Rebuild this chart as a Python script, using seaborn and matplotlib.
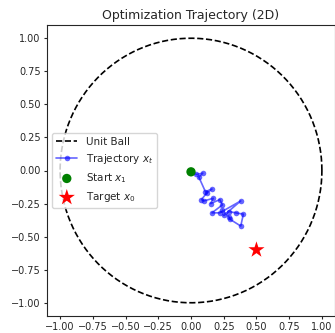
import numpy as np
import pandas as pd
import matplotlib
matplotlib.use("Agg")
import matplotlib.pyplot as plt
import seaborn as sns

# trajectory x_t
traj_x = [0.00, 0.04, 0.09, 0.06, 0.11, 0.16, 0.12, 0.08, 0.10, 0.17, 0.15, 0.22,
          0.24, 0.16, 0.22, 0.38, 0.25, 0.29, 0.34, 0.40, 0.38, 0.30, 0.29, 0.24]
traj_y = [-0.01, -0.03, -0.02, -0.05, -0.16, -0.14, -0.17, -0.22, -0.23, -0.21, -0.25, -0.22,
          -0.26, -0.32, -0.32, -0.23, -0.34, -0.31, -0.32, -0.33, -0.42, -0.37, -0.35, -0.30]
start = (0.00, -0.01)
target = (0.50, -0.60)
ticks = [-1.0, -0.75, -0.5, -0.25, 0.0, 0.25, 0.5, 0.75, 1.0]

sns.set_style("ticks")

theta = np.linspace(0, 2 * np.pi, 400)
ball = pd.DataFrame({"x": np.cos(theta), "y": np.sin(theta)})
traj = pd.DataFrame({"x": traj_x, "y": traj_y})

fig = plt.figure(figsize=(3.35, 3.33), dpi=100)
ax = fig.add_axes([47 / 335, 17 / 333, 288 / 335, 291 / 333])

sns.lineplot(data=ball, x="x", y="y", sort=False, estimator=None, color="black",
             linestyle="--", linewidth=1.2, label="Unit Ball", ax=ax)
sns.lineplot(data=traj, x="x", y="y", sort=False, estimator=None, color="blue", alpha=0.6,
             marker="o", markersize=4, markeredgewidth=0, linewidth=1.2,
             label="Trajectory $x_t$", ax=ax)
sns.scatterplot(x=[start[0]], y=[start[1]], color="green", s=45, edgecolor="none",
                label="Start $x_1$", ax=ax, zorder=5)
sns.scatterplot(x=[target[0]], y=[target[1]], color="red", marker="*", s=150,
                edgecolor="none", label="Target $x_0$", ax=ax, zorder=5)

ax.set_xlim(-1.1, 1.1)
ax.set_ylim(-1.1, 1.1)
ax.set_xticks(ticks)
ax.set_yticks(ticks)
ax.tick_params(labelsize=7, length=2.5, pad=2)
ax.set_xlabel("")
ax.set_ylabel("")
ax.set_title("Optimization Trajectory (2D)", fontsize=9, pad=4)
ax.legend(loc="center left", fontsize=7.5)

plt.savefig("out.png", dpi=100)
